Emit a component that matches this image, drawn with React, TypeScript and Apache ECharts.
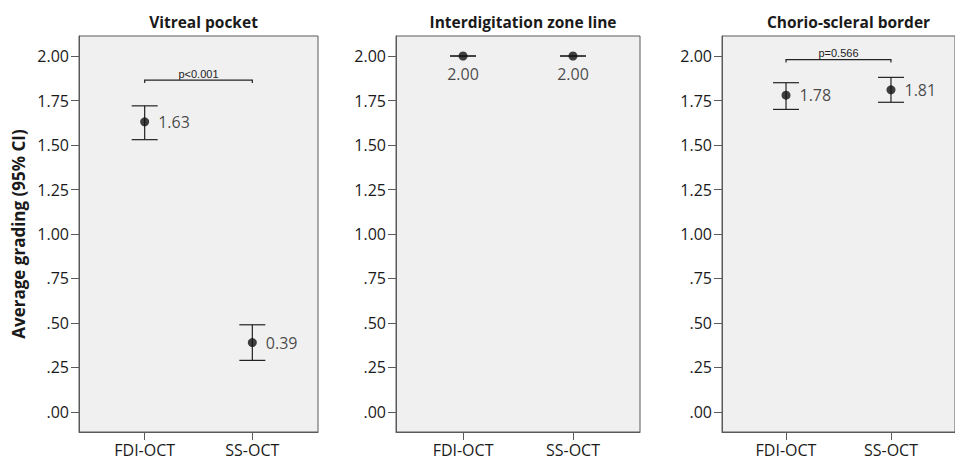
import React, { useEffect, useRef } from "react";
import * as echarts from "echarts";

const categories = ["FDI-OCT", "SS-OCT"];
const panelTitles = ["Vitreal pocket", "Interdigitation zone line", "Chorio-scleral border"];
const meanValues = [
  [1.63, 0.39],
  [2.0, 2.0],
  [1.78, 1.81],
];
const ciLower = [
  [1.53, 0.29],
  [2.0, 2.0],
  [1.7, 1.74],
];
const ciUpper = [
  [1.72, 0.49],
  [2.0, 2.0],
  [1.85, 1.88],
];
const pLabels = ["p<0.001", "", "p=0.566"];
const bracketLevels: (number | null)[] = [1.865, null, 1.98];
const yTickValues = [0, 0.25, 0.5, 0.75, 1.0, 1.25, 1.5, 1.75, 2.0];
const yAxisTitle = "Average grading (95% CI)";

const FONT = '"Open Sans", "DejaVu Sans", sans-serif';
const gridLefts = [79, 396, 722];
const gridWidths = [239, 244, 243];
const labelPositions = ["right", "bottom", "right"];
const labelDistances = [9, 5, 9];

export default function App() {
  const ref = useRef<HTMLDivElement>(null);

  useEffect(() => {
    if (!ref.current) return;
    const chart = echarts.init(ref.current, null, { renderer: "svg" });

    const grids: any[] = [];
    const xAxes: any[] = [];
    const yAxes: any[] = [];
    const titles: any[] = [];
    const series: any[] = [];

    const yFmt = (v: number) => v.toFixed(2).replace(/^0/, "");

    for (let i = 0; i < 3; i++) {
      grids.push({
        left: gridLefts[i],
        width: gridWidths[i],
        top: 36,
        height: 396,
        show: true,
        backgroundColor: "#f0f0f0",
        borderColor: "#5a5a5a",
        borderWidth: 1,
      });
      xAxes.push({
        type: "value",
        gridIndex: i,
        min: -0.61,
        max: 1.61,
        splitLine: { show: false },
        axisLine: { show: true, onZero: false, lineStyle: { color: "#5a5a5a" } },
        axisTick: {
          show: true,
          length: 8,
          customValues: [0, 1],
          lineStyle: { color: "#5a5a5a" },
        },
        axisLabel: {
          customValues: [0, 1],
          formatter: (v: number) => categories[Math.round(v)] ?? "",
          fontFamily: FONT,
          fontSize: 16,
          color: "#1a1a1a",
          margin: 10,
        },
      });
      yAxes.push({
        type: "value",
        gridIndex: i,
        min: -0.1124,
        max: 2.1124,
        splitLine: { show: false },
        axisLine: { show: true, onZero: false, lineStyle: { color: "#5a5a5a" } },
        axisTick: {
          show: true,
          length: 8,
          customValues: yTickValues,
          lineStyle: { color: "#5a5a5a" },
        },
        axisLabel: {
          customValues: yTickValues,
          formatter: yFmt,
          fontFamily: FONT,
          fontSize: 16,
          color: "#1a1a1a",
          margin: 10,
        },
      });
      titles.push({
        text: panelTitles[i],
        left: gridLefts[i] + gridWidths[i] / 2,
        top: 9,
        textAlign: "center",
        textStyle: {
          fontFamily: FONT,
          fontSize: 15.5,
          fontWeight: "bold",
          color: "#1a1a1a",
        },
      });

      series.push({
        type: "custom",
        xAxisIndex: i,
        yAxisIndex: i,
        silent: true,
        z: 2,
        data: categories.map((_, j) => [j, ciLower[i][j], ciUpper[i][j]]),
        renderItem: (params: any, api: any) => {
          const x = api.value(0);
          const lo = api.coord([x, api.value(1)]);
          const hi = api.coord([x, api.value(2)]);
          const half = 13;
          const style = { stroke: "#222", lineWidth: 1.2 };
          return {
            type: "group",
            children: [
              { type: "line", shape: { x1: hi[0], y1: hi[1], x2: lo[0], y2: lo[1] }, style },
              { type: "line", shape: { x1: hi[0] - half, y1: hi[1], x2: hi[0] + half, y2: hi[1] }, style },
              { type: "line", shape: { x1: lo[0] - half, y1: lo[1], x2: lo[0] + half, y2: lo[1] }, style },
            ],
          };
        },
      });

      series.push({
        type: "scatter",
        xAxisIndex: i,
        yAxisIndex: i,
        z: 3,
        silent: true,
        symbol: "circle",
        symbolSize: 9,
        itemStyle: { color: "#111" },
        data: categories.map((_, j) => [j, meanValues[i][j]]),
        label: {
          show: true,
          position: labelPositions[i],
          distance: labelDistances[i],
          formatter: (p: any) => p.value[1].toFixed(2),
          fontFamily: FONT,
          fontSize: 16,
          color: "#1a1a1a",
        },
      });

      const level = bracketLevels[i];
      if (level !== null) {
        const txt = pLabels[i];
        series.push({
          type: "custom",
          xAxisIndex: i,
          yAxisIndex: i,
          silent: true,
          z: 2,
          data: [[0, 1, level]],
          renderItem: (params: any, api: any) => {
            const a = api.coord([api.value(0), api.value(2)]);
            const b = api.coord([api.value(1), api.value(2)]);
            return {
              type: "group",
              children: [
                {
                  type: "polyline",
                  shape: {
                    points: [
                      [a[0], a[1] + 3],
                      [a[0], a[1]],
                      [b[0], b[1]],
                      [b[0], b[1] + 3],
                    ],
                  },
                  style: { stroke: "#222", fill: null, lineWidth: 1.2 },
                },
                {
                  type: "text",
                  style: {
                    text: txt,
                    x: (a[0] + b[0]) / 2,
                    y: a[1] - 1,
                    align: "center",
                    verticalAlign: "bottom",
                    fontFamily: '"Liberation Sans", Arial, sans-serif',
                    fontSize: 11,
                    fill: "#222",
                  },
                },
              ],
            };
          },
        });
      }
    }

    chart.setOption({
      animation: false,
      backgroundColor: "#ffffff",
      title: titles,
      grid: grids,
      xAxis: xAxes,
      yAxis: yAxes,
      series,
      graphic: [
        {
          type: "text",
          x: 18,
          y: 234,
          rotation: Math.PI / 2,
          style: {
            text: yAxisTitle,
            align: "center",
            verticalAlign: "middle",
            fontFamily: FONT,
            fontSize: 17,
            fontWeight: "bold",
            fill: "#1a1a1a",
          },
        },
      ],
    });

    return () => chart.dispose();
  }, []);

  return (
    <div
      ref={ref}
      style={{ position: "absolute", left: 0, top: 0, width: 955, height: 464 }}
    />
  );
}
